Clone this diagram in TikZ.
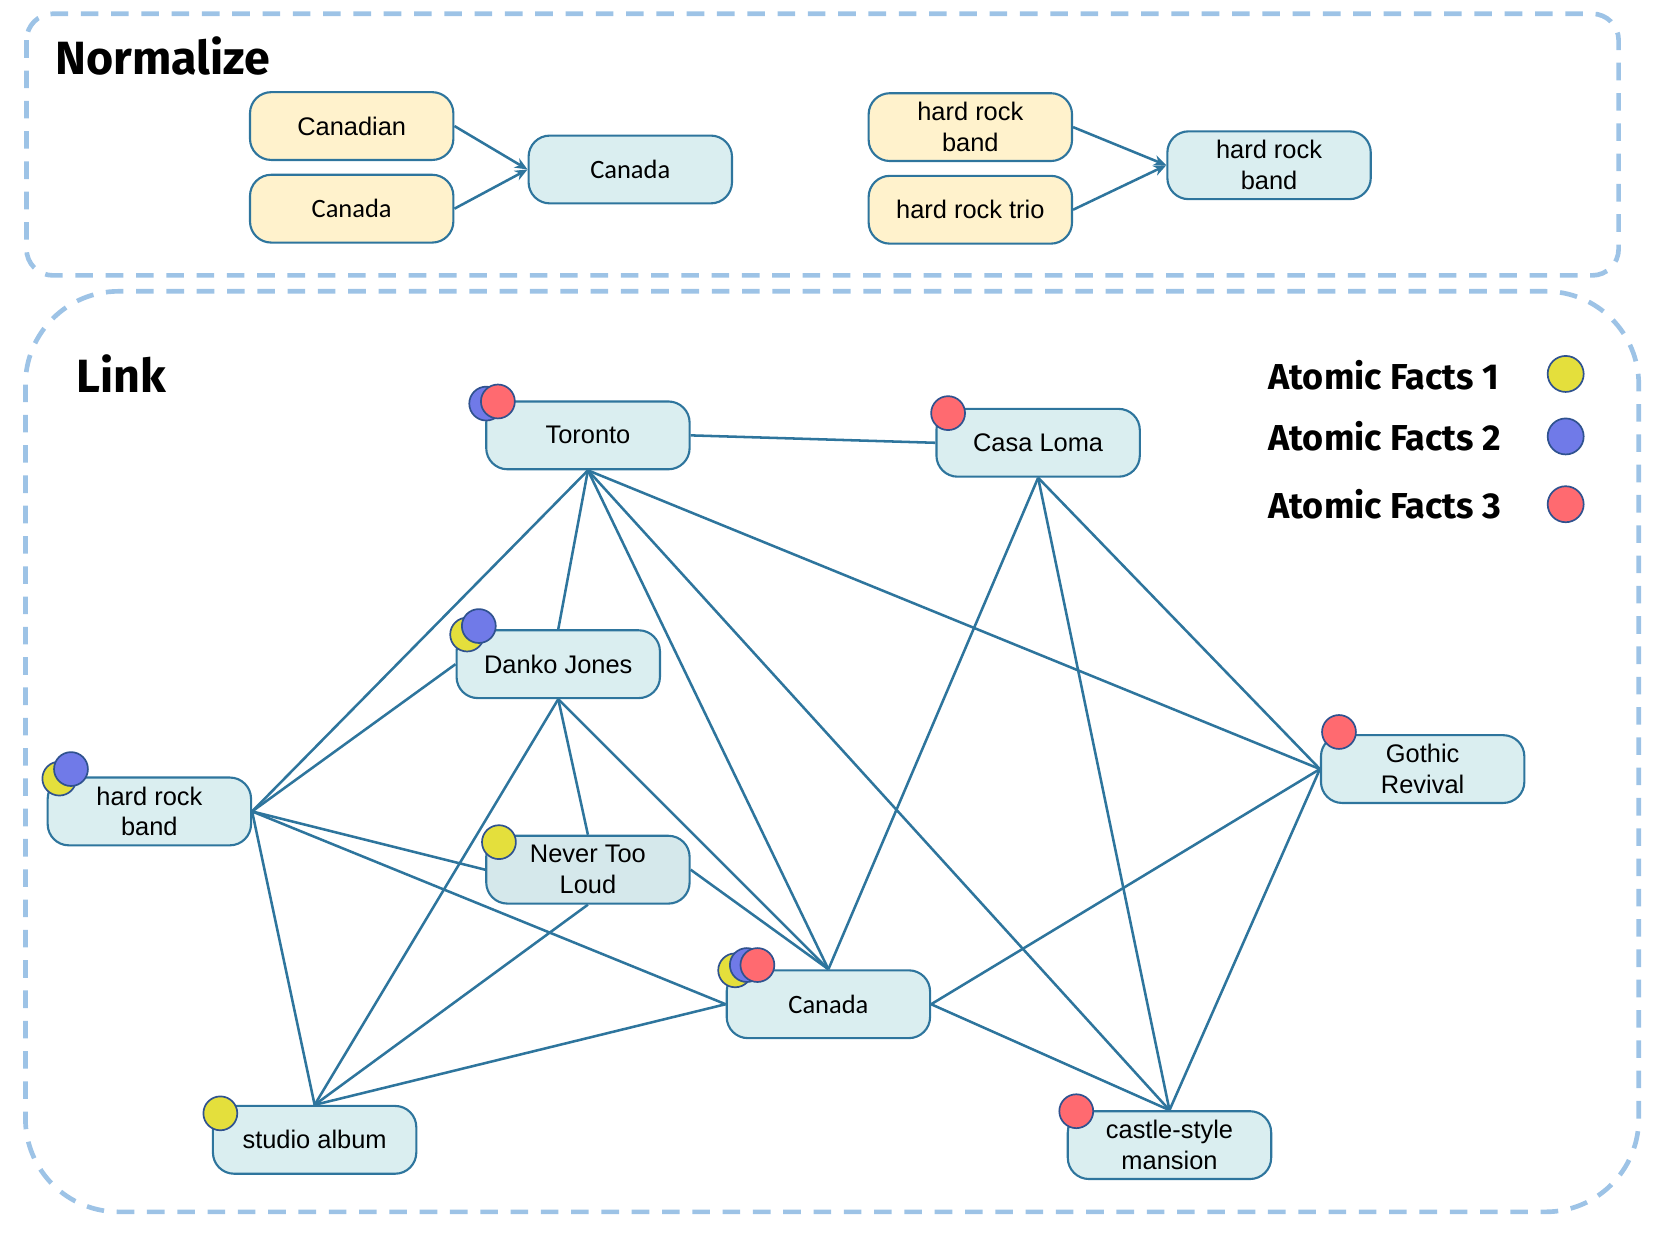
\documentclass[tikz,border=0pt]{standalone}
\usepackage{fontspec}
\setmainfont{Liberation Sans}
\newfontfamily\calfont{Carlito}
\newfontfamily\titlefont{Fira Sans}
\usetikzlibrary{arrows.meta}
\definecolor{edgec}{RGB}{46,117,157}
\definecolor{boxblue}{RGB}{218,238,240}
\definecolor{boxgray}{RGB}{213,232,235}
\definecolor{boxyel}{RGB}{255,242,204}
\definecolor{framec}{RGB}{157,195,230}
\definecolor{fy}{RGB}{228,223,60}
\definecolor{fb}{RGB}{112,122,232}
\definecolor{fr}{RGB}{255,106,112}
\definecolor{cb}{RGB}{47,82,143}
\tikzset{
  entity/.style={draw=edgec, line width=1pt, rounded corners=10pt, minimum width=96pt, minimum height=32pt, inner sep=0pt, align=center, font=\fontsize{12}{14.5}\selectfont},
  bluebox/.style={entity, fill=boxblue},
  graybox/.style={entity, fill=boxgray},
  yelbox/.style={entity, fill=boxyel},
  calibri/.style={font=\calfont\fontsize{12.5}{14.5}\selectfont},
  edgeline/.style={draw=edgec, line width=1.2pt},
  normarrow/.style={edgeline, -{Stealth[length=6pt,width=5pt]}},
  fact/.style={circle, draw=cb, line width=0.8pt, minimum size=16pt, inner sep=0pt},
  fone/.style={fact, fill=fy},
  ftwo/.style={fact, fill=fb},
  fthree/.style={fact, fill=fr},
  framebox/.style={draw=framec, line width=2.2pt, dash pattern=on 8.3pt off 6pt},
  ttl/.style={font=\titlefont\bfseries\fontsize{22}{26}\selectfont, anchor=west, inner sep=0pt},
  legtext/.style={font=\titlefont\bfseries\fontsize{17}{20}\selectfont, anchor=west, inner sep=0pt}
}
\begin{document}
\begin{tikzpicture}[x=0.5pt,y=-0.5pt]
\useasboundingbox (0,0) rectangle (1568,1171);
% frames
\draw[framebox, rounded corners=12.5pt] (25,13) rectangle (1528,260);
\draw[framebox, rounded corners=44pt] (24,275) rectangle (1547,1144);
% titles
\node[ttl] (tnorm) at (52,53) {Normalize};
\node[ttl] (tlink) at (72,353) {Link};
% normalize section
\node[yelbox] (canadian) at (332,119) {Canadian};
\node[yelbox, calibri] (canadaY) at (332,197) {Canada};
\node[bluebox, calibri] (canadaN) at (595,160) {Canada};
\node[yelbox] (hrbY) at (916,120) {hard rock\\band};
\node[yelbox] (hrtY) at (916,198) {hard rock trio};
\node[bluebox] (hrbN) at (1198,156) {hard rock\\band};
\draw[normarrow] (canadian.east) -- (canadaN.west);
\draw[normarrow] (canadaY.east) -- (canadaN.west);
\draw[normarrow] (hrbY.east) -- (hrbN.west);
\draw[normarrow] (hrtY.east) -- (hrbN.west);
% link section nodes
\node[bluebox] (toronto) at (555,411) {Toronto};
\node[bluebox] (casa) at (980,418) {Casa Loma};
\node[bluebox] (danko) at (527,627) {Danko Jones};
\node[bluebox] (hrb) at (141,766) {hard rock\\band};
\node[graybox] (never) at (555,821) {Never Too\\Loud};
\node[bluebox] (gothic) at (1343,726) {Gothic\\Revival};
\node[bluebox, calibri] (canada) at (782,948) {Canada};
\node[bluebox] (studio) at (297,1076) {studio album};
\node[bluebox] (castle) at (1104,1081) {castle-style\\mansion};
% edges
\draw[edgeline] (toronto.east) -- (casa.west);
\draw[edgeline] (toronto.south) -- (hrb.east);
\draw[edgeline] (toronto.south) -- (danko.north);
\draw[edgeline] (toronto.south) -- (canada.north);
\draw[edgeline] (toronto.south) -- (castle.north);
\draw[edgeline] (toronto.south) -- (gothic.west);
\draw[edgeline] (casa.south) -- (canada.north);
\draw[edgeline] (casa.south) -- (castle.north);
\draw[edgeline] (casa.south) -- (gothic.west);
\draw[edgeline] (danko.west) -- (hrb.east);
\draw[edgeline] (danko.south) -- (never.north);
\draw[edgeline] (danko.south) -- (canada.north);
\draw[edgeline] (danko.south) -- (studio.north);
\draw[edgeline] (hrb.east) -- (never.west);
\draw[edgeline] (hrb.east) -- (canada.west);
\draw[edgeline] (hrb.east) -- (studio.north);
\draw[edgeline] (never.east) -- (canada.north);
\draw[edgeline] (never.south) -- (studio.north);
\draw[edgeline] (canada.west) -- (studio.north);
\draw[edgeline] (canada.east) -- (gothic.west);
\draw[edgeline] (canada.east) -- (castle.north);
\draw[edgeline] (gothic.west) -- (castle.north);
% fact markers
\node[ftwo] (tor2) at (459,381) {};
\node[fthree] (tor3) at (470,379) {};
\node[fthree] (casa3) at (895,390) {};
\node[fone] (dan1) at (441,599) {};
\node[ftwo] (dan2) at (452,591) {};
\node[fone] (hrb1) at (56,735) {};
\node[ftwo] (hrb2) at (67,726) {};
\node[fone] (nev1) at (471,795) {};
\node[fthree] (got3) at (1264,691) {};
\node[fone] (can1) at (694,916) {};
\node[ftwo] (can2) at (705,911) {};
\node[fthree] (can3) at (715,911) {};
\node[fone] (stu1) at (208,1051) {};
\node[fthree] (cas3) at (1016,1049) {};
% legend
\node[legtext] (leg1) at (1197,354) {Atomic Facts 1};
\node[legtext] (leg2) at (1197,412) {Atomic Facts 2};
\node[legtext] (leg3) at (1197,476) {Atomic Facts 3};
\node[fone, minimum size=17pt] (lc1) at (1478,353) {};
\node[ftwo, minimum size=17pt] (lc2) at (1478,412) {};
\node[fthree, minimum size=17pt] (lc3) at (1478,476) {};
\end{tikzpicture}
\end{document}
